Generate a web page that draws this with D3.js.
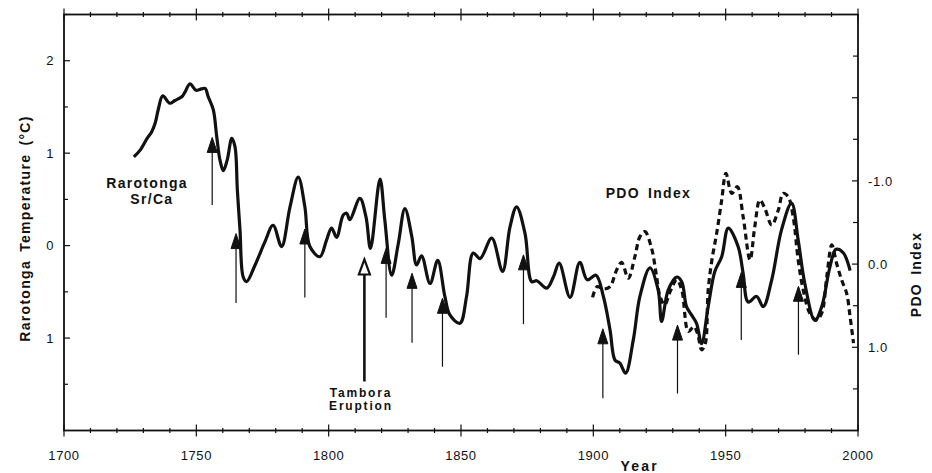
<!DOCTYPE html>
<meta charset="utf-8">
<head>
<style>
body { margin: 0; background: #fff; }
svg { font-family: Arial, 'Liberation Sans', Helvetica, sans-serif; }
.tick-label { font-size: 13px; letter-spacing: 0.6px; fill: #111; }
.axis-title { font-weight: bold; font-size: 14px; letter-spacing: 1.3px; word-spacing: 3px; fill: #111; }
.note { font-weight: bold; font-size: 14px; letter-spacing: 1.3px; word-spacing: 3px; fill: #111; }
.note-small { font-weight: bold; font-size: 12px; letter-spacing: 1.8px; fill: #111; }
</style>
</head>
<svg width="932" height="473"></svg>
<script src="https://d3js.org/d3.v7.min.js"></script>
<script>

// Rarotonga Sr/Ca temperature (left axis, degC)
const srcaYear = [1726.4, 1728.7, 1731.4, 1733.1, 1734.4, 1735.6, 1737.3, 1740.0, 1741.9, 1744.5,
    1745.7, 1747.6, 1749.9, 1751.4, 1753.3, 1754.5, 1756.4, 1757.7, 1758.9, 1760.2,
    1761.7, 1763.4, 1764.6, 1765.5, 1766.5, 1767.7, 1769.0, 1772.2, 1775.9, 1779.0,
    1782.2, 1785.4, 1788.5, 1791.0, 1792.9, 1796.7, 1799.2, 1801.1, 1803.0, 1805.5,
    1806.8, 1808.0, 1811.8, 1814.1, 1815.8, 1819.4, 1821.2, 1823.8, 1826.3, 1828.8,
    1831.4, 1833.2, 1835.1, 1838.3, 1841.2, 1843.9, 1845.8, 1849.6, 1852.1, 1854.6,
    1857.2, 1861.6, 1865.7, 1868.5, 1871.0, 1874.2, 1876.7, 1878.6, 1882.4, 1884.9,
    1887.1, 1891.2, 1894.9, 1897.7, 1901.0, 1903.8, 1906.3, 1908.2, 1910.0, 1912.2,
    1915.1, 1917.6, 1921.4, 1924.5, 1925.8, 1928.3, 1931.5, 1933.4, 1935.2, 1937.1,
    1939.0, 1940.9, 1943.4, 1945.9, 1948.5, 1951.0, 1954.7, 1956.6, 1958.5, 1961.7,
    1964.2, 1967.4, 1971.1, 1974.9, 1977.4, 1979.9, 1983.7, 1986.3, 1989.4, 1991.7,
    1994.5, 1997.0];
const srcaTemp = [0.96, 1.03, 1.16, 1.23, 1.32, 1.47, 1.62, 1.54, 1.57, 1.61,
    1.66, 1.75, 1.68, 1.69, 1.70, 1.61, 1.47, 1.18, 0.93, 0.81,
    0.93, 1.16, 1.07, 0.60, 0.17, -0.34, -0.39, -0.21, 0.04, 0.22,
    -0.01, 0.42, 0.74, 0.42, -0.01, -0.12, 0.06, 0.19, 0.09, 0.33,
    0.35, 0.28, 0.51, 0.31, -0.03, 0.72, 0.28, -0.32, 0.02, 0.40,
    0.10, -0.21, -0.11, -0.41, -0.16, -0.55, -0.75, -0.84, -0.55, -0.08,
    -0.14, 0.08, -0.28, 0.20, 0.42, 0.13, -0.39, -0.38, -0.46, -0.34,
    -0.19, -0.56, -0.18, -0.37, -0.32, -0.55, -0.91, -1.24, -1.27, -1.38,
    -1.02, -0.55, -0.24, -0.48, -0.82, -0.48, -0.34, -0.39, -0.66, -0.75,
    -0.84, -1.06, -0.66, -0.28, -0.12, 0.19, -0.01, -0.30, -0.61, -0.55,
    -0.66, -0.37, 0.17, 0.46, 0.06, -0.41, -0.81, -0.66, -0.23, -0.04,
    -0.08, -0.27];

// PDO index (right axis, inverted)
const pdoYear = [1899.7, 1901.5, 1903.7, 1906.3, 1908.8, 1910.7, 1913.2, 1915.7, 1917.6, 1919.5,
    1922.0, 1923.9, 1925.2, 1927.0, 1928.9, 1931.5, 1933.4, 1935.9, 1938.0, 1939.5,
    1940.9, 1942.2, 1943.4, 1944.8, 1946.6, 1948.5, 1950.1, 1952.3, 1954.4, 1956.6,
    1959.2, 1961.0, 1962.9, 1964.8, 1967.4, 1969.9, 1971.7, 1973.6, 1975.5, 1977.4,
    1979.3, 1981.8, 1984.3, 1986.3, 1988.2, 1990.1, 1991.9, 1993.8, 1995.7, 1997.0,
    1998.3];
const pdoValue = [0.40, 0.27, 0.30, 0.27, 0.07, -0.02, 0.17, -0.09, -0.33, -0.39,
    -0.19, 0.15, 0.39, 0.49, 0.34, 0.19, 0.31, 0.81, 0.75, 0.85,
    1.03, 0.97, 0.31, -0.05, -0.37, -0.77, -1.09, -0.85, -0.93, -0.57,
    -0.05, -0.45, -0.77, -0.67, -0.47, -0.65, -0.85, -0.81, -0.57, -0.05,
    0.31, 0.59, 0.67, 0.59, 0.15, -0.23, -0.01, 0.19, 0.35, 0.63,
    0.95];

// volcanic event arrows (tip / tail in temperature units)
const arrowYear = [1756, 1765, 1791, 1813.5, 1821.7, 1831.5, 1843, 1873.6, 1903.6, 1931.8, 1955.9, 1977.5];
const arrowTip  = [1.17, 0.13, 0.18, -0.15, -0.03, -0.30, -0.57, -0.10, -0.90, -0.86, -0.29, -0.44];
const arrowTail = [0.44, -0.62, -0.56, -1.47, -0.78, -1.05, -1.31, -0.85, -1.65, -1.60, -1.02, -1.18];
const tamboraYear = 1813.5;

const tempTicks = [2, 1, 0, -1];
const pdoTicks = [-1, 0, 1];
const yearTicks = [1700, 1750, 1800, 1850, 1900, 1950, 2000];

const svg = d3.select('svg');

const x = d3.scaleLinear().domain([1700, 2000]).range([64, 858]);
const yT = d3.scaleLinear().domain([-2, 2.5]).range([430.5, 14.5]);
const yP = d3.scaleLinear().domain([2, -3]).range([430.5, 14.5]);

const x0 = x.range()[0], x1 = x.range()[1];
const yTop = yT.range()[1], yBot = yT.range()[0];

// frame
svg.append('rect')
    .attr('x', x0).attr('y', yTop)
    .attr('width', x1 - x0).attr('height', yBot - yTop)
    .attr('fill', 'none')
    .attr('stroke', '#111')
    .attr('stroke-width', 1.8);

const ticks = svg.append('g').attr('stroke', '#111').attr('stroke-width', 1.2);

// year ticks, top and bottom, crossing the frame
d3.range(1700, 2001, 10).forEach(yr => {
    const len = yr % 50 === 0 ? 6 : 2.5;
    [yTop, yBot].forEach(yy => {
        ticks.append('line')
            .attr('x1', x(yr)).attr('x2', x(yr))
            .attr('y1', yy - len).attr('y2', yy + len);
    });
});

// left ticks (temperature)
d3.range(-1.5, 2.51, 0.5).forEach(v => {
    const len = Number.isInteger(v) ? 6 : 4;
    ticks.append('line')
        .attr('x1', x0).attr('x2', x0 + len)
        .attr('y1', yT(v)).attr('y2', yT(v));
});

// right ticks (PDO)
d3.range(-2.5, 1.51, 0.5).forEach(v => {
    const len = Number.isInteger(v) ? 6 : 5;
    ticks.append('line')
        .attr('x1', x1 - len).attr('x2', x1)
        .attr('y1', yP(v)).attr('y2', yP(v));
});

// tick labels
svg.append('g').selectAll('text')
    .data(yearTicks)
    .enter().append('text')
    .attr('class', 'tick-label')
    .attr('x', d => x(d))
    .attr('y', 459.5)
    .attr('text-anchor', 'middle')
    .text(d => d);

svg.append('g').selectAll('text')
    .data(tempTicks)
    .enter().append('text')
    .attr('class', 'tick-label')
    .attr('x', x0 - 10)
    .attr('y', d => yT(d) + 4.7)
    .attr('text-anchor', 'end')
    .text(d => Math.abs(d));

svg.append('g').selectAll('text')
    .data(pdoTicks)
    .enter().append('text')
    .attr('class', 'tick-label')
    .attr('x', x1 + 10)
    .attr('y', d => yP(d) + 4.7)
    .text(d => d3.format('.1f')(d).replace('−', '-'));

// axis titles
svg.append('text')
    .attr('class', 'axis-title')
    .attr('text-anchor', 'middle')
    .attr('transform', 'translate(29.5,228.5) rotate(-90)')
    .text('Rarotonga Temperature (°C)');

svg.append('text')
    .attr('class', 'axis-title')
    .attr('text-anchor', 'middle')
    .attr('transform', 'translate(921,274.5) rotate(-90)')
    .text('PDO Index');

svg.append('text')
    .attr('class', 'axis-title')
    .style('font-size', '14px')
    .style('letter-spacing', '2.2px')
    .attr('text-anchor', 'middle')
    .attr('x', x(1917.5))
    .attr('y', 470.5)
    .text('Year');

// curves
const curve = d3.curveCatmullRom.alpha(0.5);

const srcaLine = d3.line()
    .x(i => x(srcaYear[i]))
    .y(i => yT(srcaTemp[i]))
    .curve(curve);

const pdoLine = d3.line()
    .x(i => x(pdoYear[i]))
    .y(i => yP(pdoValue[i]))
    .curve(curve);

svg.append('path')
    .attr('d', srcaLine(d3.range(srcaYear.length)))
    .attr('fill', 'none')
    .attr('stroke', '#111')
    .attr('stroke-width', 3.2)
    .attr('stroke-linejoin', 'round');

svg.append('path')
    .attr('d', pdoLine(d3.range(pdoYear.length)))
    .attr('fill', 'none')
    .attr('stroke', '#111')
    .attr('stroke-width', 3.2)
    .attr('stroke-dasharray', '6,4');

// arrows
const headLen = 15, headHalf = 5;
arrowYear.forEach((yr, i) => {
    const big = yr === tamboraYear;
    const ax = x(yr), tip = yT(arrowTip[i]), tail = yT(arrowTail[i]);
    svg.append('line')
        .attr('x1', ax).attr('x2', ax)
        .attr('y1', tail).attr('y2', tip + headLen - 1)
        .attr('stroke', '#111')
        .attr('stroke-width', big ? 2.6 : 1.2);
    const hw = big ? 5.5 : headHalf;
    svg.append('path')
        .attr('d', `M${ax},${tip} L${ax - hw},${tip + headLen} L${ax + hw},${tip + headLen} Z`)
        .attr('fill', big ? '#fff' : '#111')
        .attr('stroke', '#111')
        .attr('stroke-width', big ? 2.2 : 1)
        .attr('stroke-linejoin', 'miter');
});

// annotations
svg.append('text').attr('class', 'note')
    .attr('x', x(1731.4)).attr('y', yT(0.62))
    .attr('text-anchor', 'middle').text('Rarotonga');
svg.append('text').attr('class', 'note')
    .attr('x', x(1733.2)).attr('y', yT(0.45))
    .attr('text-anchor', 'middle').text('Sr/Ca');
svg.append('text').attr('class', 'note')
    .attr('x', x(1920.8)).attr('y', yT(0.52))
    .attr('text-anchor', 'middle').text('PDO Index');
svg.append('text').attr('class', 'note-small')
    .attr('x', x(1812.2)).attr('y', yT(-1.635))
    .attr('text-anchor', 'middle').text('Tambora');
svg.append('text').attr('class', 'note-small')
    .attr('x', x(1812.2)).attr('y', yT(-1.78))
    .attr('text-anchor', 'middle').text('Eruption');

</script>
